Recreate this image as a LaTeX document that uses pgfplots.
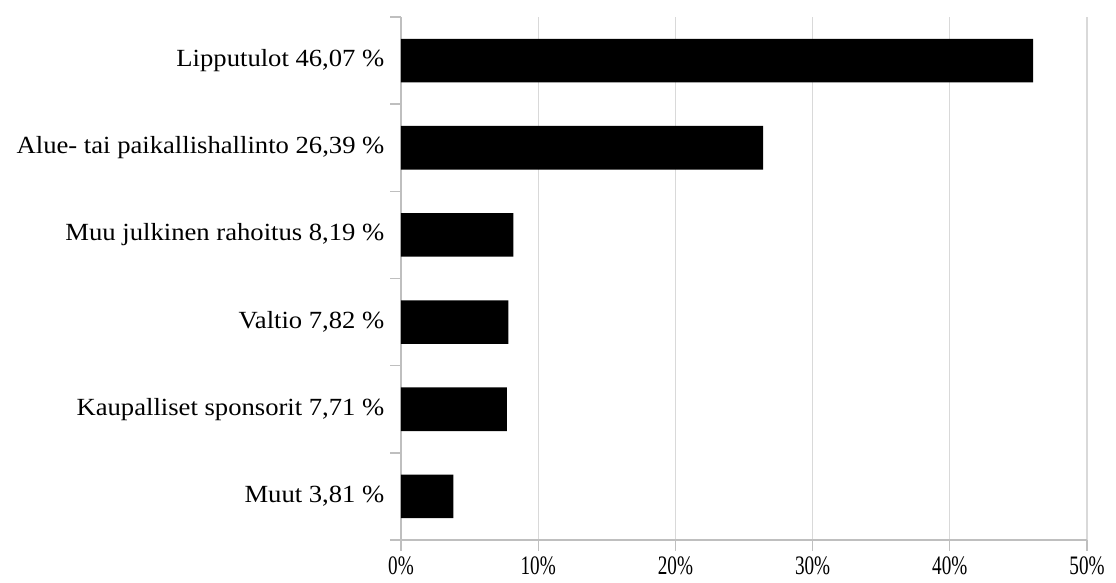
\documentclass[border=0pt]{standalone}
\usepackage{pgfplots}
\pgfplotsset{compat=1.18}
\usepackage{fontspec}
\setmainfont{Liberation Serif}
\definecolor{gridc}{RGB}{217,217,217}
\definecolor{axisc}{RGB}{191,191,191}
\begin{document}
\begin{tikzpicture}
\path[use as bounding box] (-300.75pt,-31.5pt) rectangle (536.25pt,405pt);
\begin{axis}[
  scale only axis,
  width=514.5pt, height=392.25pt,
  xbar, bar width=0.5,
  xmin=0, xmax=50, ymin=-0.5, ymax=5.5,
  axis lines=left,
  axis line style={-, draw=axisc, line width=1pt},
  xtick={0,10,20,30,40,50},
  xticklabels={0\%,10\%,20\%,30\%,40\%,50\%},
  xmajorgrids,
  grid style={draw=gridc, line width=0.8pt},
  tick align=outside,
  major tick length=8pt,
  tick style={draw=axisc, line width=1pt},
  ytick={-0.5,0.5,1.5,2.5,3.5,4.5,5.5},
  yticklabels={,,,,,,,},
  extra y ticks={0,1,2,3,4,5},
  extra y tick labels={{Muut 3,81 \%},{Kaupalliset sponsorit 7,71 \%},{Valtio 7,82 \%},{Muu julkinen rahoitus 8,19 \%},{Alue- tai paikallishallinto 26,39 \%},{Lipputulot 46,07 \%}},
  extra y tick style={major tick length=0pt},
  y tick label style={font=\fontsize{18.5}{22}\selectfont, xscale=1.08, xshift=-8pt},
  x tick label style={font=\fontsize{20}{24}\selectfont, xscale=0.72, yshift=-1pt},
  clip=false,
]
\addplot[draw=none, fill=black] coordinates {(3.81,0) (7.71,1) (7.82,2) (8.19,3) (26.39,4) (46.07,5)};
\end{axis}
\end{tikzpicture}
\end{document}
